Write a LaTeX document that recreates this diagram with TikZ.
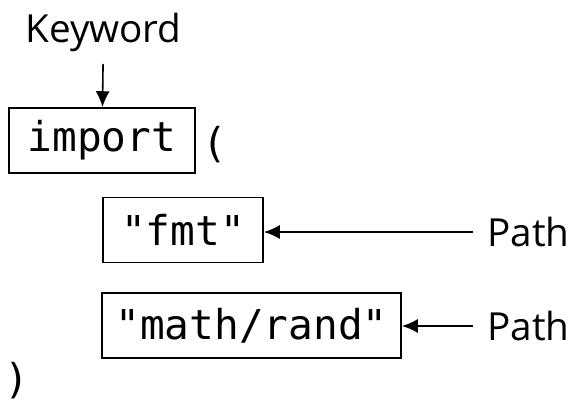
\documentclass[tikz,border=0pt]{standalone}
\usepackage{fontspec}
\setmainfont{Open Sans}
\setmonofont{DejaVu Sans Mono}
\usetikzlibrary{arrows.meta}
\tikzset{
  codebox/.style={draw=black,line width=1.1pt,font=\ttfamily\fontsize{23.4}{27}\selectfont,minimum height=1.3cm,inner xsep=0pt},
  code/.style={font=\ttfamily\fontsize{23.4}{27}\selectfont,inner sep=0pt},
  tag/.style={font=\fontsize{22}{26}\selectfont},
  pointer/.style={line width=0.9pt,-{Latex[length=9pt,width=8pt]}}
}

\begin{document}
\begin{tikzpicture}
\useasboundingbox (0,0) rectangle (11.44,-8.04);
% \draw[help lines] (0,0) grid (11,-8);
\node (kw) [tag,inner ysep=7pt] at (2.07,-0.64) {Keyword};
\node (import) [codebox,minimum width=3.72cm] at (2.04,-2.81) {import};
\node (lpar) [code] at (4.3,-2.9) {(};
%
\node (fmt) [codebox,minimum width=3.2cm] at (3.66,-4.6) {"fmt"};
\node (rand) [codebox,minimum width=5.98cm] at (5.03,-6.51) {"math/rand"};
\node (rpar) [code] at (0.34,-7.62) {)};
%
\node (path1) [tag,anchor=west,inner xsep=8pt] at (9.46,-4.64) {Path};
\node (path2) [tag,anchor=west,inner xsep=8pt] at (9.46,-6.52) {Path};
%
\draw[pointer] (kw) -- (import);
\draw[pointer] (path1.west) -- (fmt.east |- path1.west);
\draw[pointer] (path2.west) -- (rand.east |- path2.west);
\end{tikzpicture}
\end{document}
